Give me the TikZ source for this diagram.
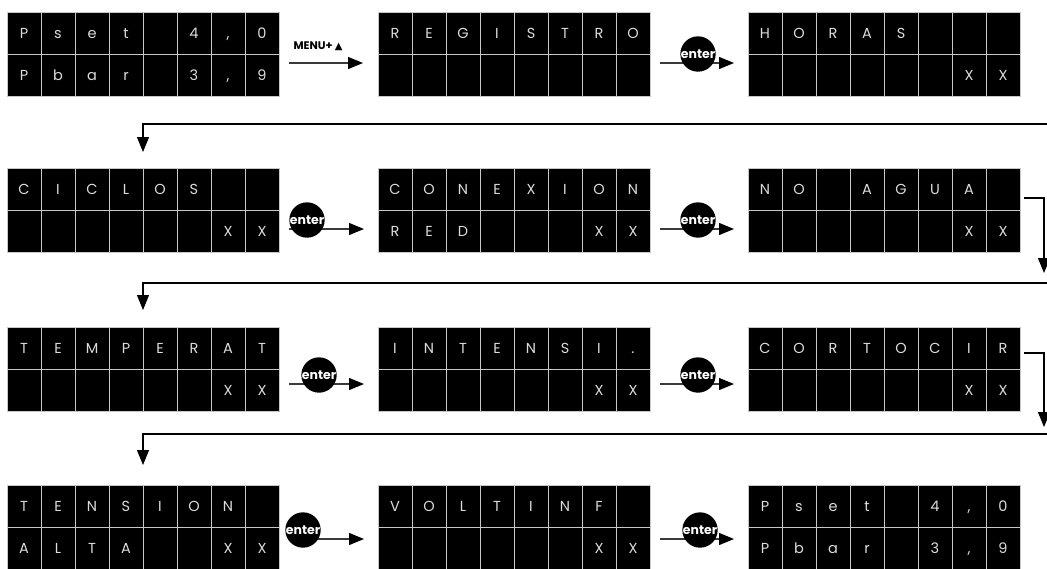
\documentclass[tikz,border=0pt]{standalone}
\usepackage{fontspec}
\setmainfont{Poppins}
\newfontfamily\symfont{DejaVu Sans}
\usetikzlibrary{arrows.meta,calc}
\definecolor{cGrid}{HTML}{C8C8C8}
\definecolor{cChar}{HTML}{DCDCDC}
\definecolor{cLine}{HTML}{3A3A3A}
\tikzset{
  panel/.style ={anchor=north west,minimum width=272pt,minimum height=84pt,
                 inner sep=0pt,outer sep=0pt},
  cell/.style  ={fill=black,draw=cGrid,line width=0.9pt,minimum width=34pt,
                 minimum height=42pt,inner sep=0pt,text=cChar,
                 text height=10.5pt,text depth=0pt,
                 font=\fontsize{14.5}{15}\selectfont},
  fwd/.style   ={draw=cLine,line width=1.3pt,
                 -{Triangle[length=15pt,width=12pt,color=black]}},
  ret/.style   ={draw=black,line width=1.1pt,
                 -{Triangle[length=15pt,width=12pt]}},
  key/.style   ={circle,fill=black,minimum size=35pt,inner sep=0pt,text=white,
                 font=\bfseries\fontsize{12.5}{13}\selectfont},
  menu/.style  ={font=\bfseries\fontsize{11}{11}\selectfont,inner sep=1pt},
}
% one display: name, left, top, upper row, lower row
\newcommand\lcd[5]{%
  \node[panel] (#1) at (#2,#3) {};
  \foreach \ch [count=\i from 0] in {#4}
    \node[cell] at ($(#1.north west)+(\i*34pt+17pt,-21pt)$) {\ch};
  \foreach \ch [count=\i from 0] in {#5}
    \node[cell] at ($(#1.north west)+(\i*34pt+17pt,-63pt)$) {\ch};
}
% enter step: from, to, depth of the arrow, offset of the key
\newcommand\enterlink[4]{%
  \draw[fwd] ($(#1.north east)+(10pt,-#3)$) -- ($(#2.north west)+(-14pt,-#3)$);
  \node[key] (#1-key) at ($(#1.north east)+(#4,-#3+9pt)$) {enter};
}

\begin{document}
\begin{tikzpicture}[x=1pt, y=-1pt]
\useasboundingbox (0,0) rectangle (1047,568);
\def\xA{7} \def\xB{378} \def\xC{748}

% row 1
\lcd{pseta}{\xA}{12}{P,s,e,t,{},4,{,},0}{P,b,a,r,{},3,{,},9}
\lcd{registro}{\xB}{12}{R,E,G,I,S,T,R,O}{{},{},{},{},{},{},{},{}}
\lcd{horas}{\xC}{12}{H,O,R,A,S,{},{},{}}{{},{},{},{},{},{},X,X}
\draw[fwd] ($(pseta.north east)+(10pt,-51pt)$) -- ($(registro.north west)+(-15pt,-51pt)$);
\node[menu] (menu) at (318,46) {MENU+ {\symfont\fontsize{10}{10}\selectfont ▲}};
\enterlink{registro}{horas}{51pt}{48pt}

% row 2
\lcd{ciclos}{\xA}{168}{C,I,C,L,O,S,{},{}}{{},{},{},{},{},{},X,X}
\lcd{conexion}{\xB}{168}{C,O,N,E,X,I,O,N}{R,E,D,{},{},{},X,X}
\lcd{noagua}{\xC}{168}{N,O,{},A,G,U,A,{}}{{},{},{},{},{},{},X,X}
\enterlink{ciclos}{conexion}{61pt}{28pt}
\enterlink{conexion}{noagua}{61pt}{48pt}

% row 3
\lcd{temperat}{\xA}{327}{T,E,M,P,E,R,A,T}{{},{},{},{},{},{},X,X}
\lcd{intensi}{\xB}{327}{I,N,T,E,N,S,I,.}{{},{},{},{},{},{},X,X}
\lcd{cortocir}{\xC}{327}{C,O,R,T,O,C,I,R}{{},{},{},{},{},{},X,X}
\enterlink{temperat}{intensi}{57pt}{40pt}
\enterlink{intensi}{cortocir}{57pt}{48pt}

% row 4
\lcd{tension}{\xA}{485}{T,E,N,S,I,O,N,{}}{A,L,T,A,{},{},X,X}
\lcd{voltinf}{\xB}{485}{V,O,L,T,I,N,F,{}}{{},{},{},{},{},{},X,X}
\lcd{psetb}{\xC}{485}{P,s,e,t,{},4,{,},0}{P,b,a,r,{},3,{,},9}
\enterlink{tension}{voltinf}{54pt}{24pt}
\enterlink{voltinf}{psetb}{54pt}{50pt}

% returns to the next row
\coordinate (back1) at (1047,124);
\draw[ret] (back1) -| ($(ciclos.north west)+(136pt,16pt)$);
\coordinate (down1) at (1044,273);
\draw[ret] ($(noagua.north east)+(4pt,-30pt)$) -| (down1);
\coordinate (back2) at (1047,283);
\draw[ret] (back2) -| ($(temperat.north west)+(136pt,17pt)$);
\coordinate (down2) at (1044,427);
\draw[ret] ($(cortocir.north east)+(4pt,-26pt)$) -| (down2);
\coordinate (back3) at (1047,434);
\draw[ret] (back3) -| ($(tension.north west)+(136pt,20pt)$);
\end{tikzpicture}
\end{document}
